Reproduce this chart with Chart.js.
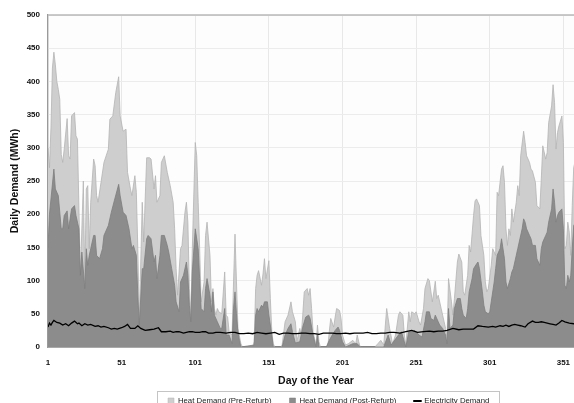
<!DOCTYPE html>
<html>
<head>
<meta charset="utf-8">
<script src="https://cdn.jsdelivr.net/npm/chart.js@4"></script>
<style>
html,body{margin:0;padding:0;overflow:hidden;background:#fff;width:574px;height:403px}
#wrap{position:absolute;left:0;top:0;width:600px;height:440px}
canvas{display:block}
</style>
</head>
<body>
<div id="wrap"><canvas id="c" width="600" height="440"></canvas></div>
<script>
// ---- data ----
const xTickValues = [1, 51, 101, 151, 201, 251, 301, 351];

const preDays = [1,2,3,4,5,6,7,8,9,10,11,12,14,15,16,17,19,20,21,23,25,26,27,28,29,30,32,33,34,35,37,39,42,43,45,47,49,50,52,54,55,57,58,60,61,62,63,65,66,67,68,70,71,73,74,75,77,78,80,82,84,86,87,88,89,90,91,92,94,95,96,97,98,99,101,102,103,104,105,107,108,109,111,112,113,114,115,116,117,119,121,122,123,124,126,127,128,129,130,132,133,140,141,142,143,144,146,147,148,149,151,152,153,154,155,159,160,162,164,166,167,169,170,172,173,174,175,177,178,179,180,181,183,184,185,186,191,192,193,195,196,197,199,200,201,203,205,208,210,211,212,213,223,225,227,229,231,233,235,237,239,240,242,243,244,246,247,248,250,251,253,254,256,257,259,260,262,263,264,265,266,268,269,271,272,273,275,276,277,279,280,282,283,284,286,287,288,290,291,292,294,295,297,298,299,300,302,303,305,306,307,309,310,311,312,313,314,315,316,317,319,320,321,322,324,325,326,328,329,330,332,333,335,336,337,339,340,341,343,344,345,346,347,348,350,351,352,353,354,355,356,357,358,360];
const preValues = [300,270,330,420,444,425,400,388,373,290,278,298,344,288,283,348,353,318,313,108,250,98,238,243,148,218,283,273,228,218,248,278,298,343,348,383,407,348,325,328,263,238,228,258,233,148,38,218,158,223,285,285,283,238,258,218,228,278,288,263,243,218,178,118,78,113,148,153,203,218,188,88,48,148,308,288,218,148,68,98,168,188,138,68,88,58,48,58,53,50,113,48,45,23,18,98,170,98,28,5,0,0,8,88,108,115,93,110,133,103,130,73,23,5,0,0,3,38,48,68,53,38,8,28,18,48,83,88,78,88,58,23,3,33,8,0,0,23,43,30,45,58,55,43,18,3,5,10,5,18,8,0,0,5,10,3,58,28,5,18,48,53,48,18,3,53,38,53,50,53,38,33,58,88,103,100,68,83,99,73,78,58,48,28,13,103,68,48,73,128,140,128,83,78,108,153,143,198,220,223,213,168,138,98,83,88,123,148,138,233,228,268,273,248,178,153,178,168,208,188,218,243,228,288,325,308,288,278,268,265,248,213,208,253,303,283,293,338,363,395,368,298,323,333,348,308,148,153,188,173,138,213,270,290];

const postDays = [1,2,5,6,8,10,11,12,14,15,16,17,19,20,22,23,24,26,27,28,29,30,32,33,34,36,38,39,42,44,46,49,50,52,54,56,58,59,61,62,63,65,66,68,69,71,73,74,75,77,78,80,82,83,85,87,88,90,91,93,95,96,97,98,99,101,103,104,105,107,108,109,111,112,113,114,116,118,119,121,122,124,126,127,128,129,130,131,132,141,142,143,144,146,147,148,150,151,153,154,160,162,164,166,167,169,172,174,176,178,179,181,183,184,185,190,192,194,196,198,199,201,203,208,211,213,229,232,234,239,241,243,244,246,248,250,253,255,257,258,260,261,263,264,266,267,269,271,272,273,274,276,277,279,281,282,283,285,286,287,289,290,292,293,294,296,297,298,300,301,302,304,305,306,308,309,311,312,313,315,316,317,319,320,321,323,324,325,326,328,329,330,332,333,335,336,337,339,340,341,343,344,345,346,347,348,350,351,352,353,354,355,356,357,358,360];
const postValues = [150,200,268,238,228,178,178,198,205,178,193,208,213,198,178,108,143,88,148,123,138,148,168,168,138,133,148,168,183,203,220,245,228,203,198,178,148,153,138,78,33,118,118,163,168,163,128,138,103,138,168,168,153,143,118,93,68,53,98,108,128,108,63,38,113,178,148,103,58,53,88,103,78,53,83,48,38,28,28,58,18,18,5,58,83,50,22,10,0,3,48,58,53,63,60,68,68,48,18,0,0,18,28,35,23,6,8,30,45,48,43,18,0,18,0,0,10,18,25,30,25,8,0,5,5,0,0,18,3,18,23,8,0,23,23,25,18,15,38,53,53,43,40,48,38,33,28,18,5,58,28,33,58,73,73,58,48,43,58,83,103,118,125,128,118,83,63,53,50,53,68,98,118,138,148,163,133,98,88,103,113,118,138,148,158,178,193,188,178,168,163,153,153,133,123,148,158,168,173,188,208,238,218,188,198,203,208,178,93,88,108,98,108,148,183,190];

const elecDays = [1,2,3,4,5,7,9,11,13,15,17,19,21,22,24,26,28,30,33,35,37,39,42,44,46,48,51,53,55,57,60,62,64,67,70,73,76,78,81,84,86,88,90,93,95,97,99,101,104,106,108,110,113,115,118,122,125,128,131,134,137,140,143,146,149,152,155,158,161,164,167,170,173,176,179,182,185,188,191,194,197,200,203,206,209,212,215,218,221,224,227,230,233,236,240,244,248,252,256,260,263,266,269,272,276,280,283,286,290,293,296,300,303,305,308,310,312,314,316,318,320,322,325,327,330,332,334,336,338,340,342,344,346,348,350,352,355,358,360];
const elecValues = [30,36,33,37,40,37,36,33,35,32,36,39,35,36,32,35,33,34,31,32,30,31,29,27,28,27,29,31,34,28,28,32,28,25,26,27,29,23,23,24,22,23,23,21,22,23,23,22,22,23,23,21,21,22,22,21,22,22,20,20,21,20,22,21,20,21,22,19,21,21,20,20,21,21,20,20,19,21,21,21,20,20,21,20,21,21,21,22,20,20,21,21,22,22,21,23,25,22,23,24,23,24,24,25,28,26,27,27,27,32,31,30,31,30,32,31,33,31,33,34,33,32,30,35,39,37,37,38,37,36,35,34,33,36,40,38,36,35,36];

const seriesLabels = ['Heat Demand (Pre-Refurb)', 'Heat Demand (Post-Refurb)', 'Electricity Demand'];

const toPoints = (xs, ys) => xs.map((x, i) => ({x: x, y: ys[i]}));

Chart.defaults.font.family = "'Liberation Sans', Arial, sans-serif";
Chart.defaults.color = '#1a1a1a';

const PAD_BOTTOM = 17;
const PLOT_BOTTOM = 347;
const LEGEND_FONT = 7.8;
const LEGEND_PAD = 18;

const legendPlace = {
  id: 'legendPlace',
  afterLayout(chart) {
    const lg = chart.legend;
    if (!lg) return;
    const w = lg.width, h = lg.height;
    lg.left = 150; lg.right = 150 + w;
    lg.top = 401 - LEGEND_PAD - LEGEND_FONT / 2;
    lg.bottom = lg.top + h;
  },
  afterDraw(chart) {
    const lg = chart.legend;
    if (!lg || !lg.legendHitBoxes || !lg.legendHitBoxes.length) return;
    const hb = lg.legendHitBoxes;
    const x0 = hb[0].left - 11;
    const last = hb[hb.length - 1];
    const x1 = last.left + last.width + 10;
    const ctx = chart.ctx;
    ctx.save();
    ctx.strokeStyle = '#c4c4c4';
    ctx.lineWidth = 1;
    ctx.strokeRect(Math.round(x0) + 0.5, 391.5, Math.round(x1 - x0), 40);
    ctx.restore();
  }
};

const plotFrame = {
  id: 'plotFrame',
  beforeDraw(chart) {
    const a = chart.chartArea, ctx = chart.ctx;
    ctx.save();
    ctx.fillStyle = '#fdfdfd';
    ctx.fillRect(a.left, a.top, a.right - a.left, a.bottom - a.top);
    ctx.restore();
  },
  afterDraw(chart) {
    const a = chart.chartArea, ctx = chart.ctx;
    ctx.save();
    ctx.strokeStyle = '#b8b8b8';
    ctx.lineWidth = 1.5;
    ctx.beginPath();
    ctx.moveTo(a.left, a.top); ctx.lineTo(a.right, a.top);
    ctx.stroke();
    ctx.restore();
  }
};

new Chart(document.getElementById('c'), {
  type: 'line',
  data: {
    datasets: [
      {
        label: seriesLabels[0],
        data: toPoints(preDays, preValues),
        backgroundColor: '#cecece',
        borderColor: '#b4b4b4',
        borderWidth: 0.8,
        fill: 'origin',
        pointRadius: 0,
        pointStyle: 'rect',
        tension: 0,
        order: 2
      },
      {
        label: seriesLabels[1],
        data: toPoints(postDays, postValues),
        backgroundColor: '#8c8c8c',
        borderColor: '#7e7e7e',
        borderWidth: 0.8,
        fill: 'origin',
        pointRadius: 0,
        pointStyle: 'rect',
        tension: 0,
        order: 1
      },
      {
        label: seriesLabels[2],
        data: toPoints(elecDays, elecValues),
        backgroundColor: '#000',
        borderColor: '#000',
        borderWidth: 1.3,
        fill: false,
        pointRadius: 0,
        pointStyle: 'line',
        tension: 0,
        order: 0
      }
    ]
  },
  options: {
    responsive: false,
    animation: false,
    devicePixelRatio: 1,
    layout: { padding: { left: 0, right: 16, top: 15, bottom: PAD_BOTTOM } },
    scales: {
      x: {
        type: 'linear',
        min: 1,
        max: 365,
        afterBuildTicks: (s) => { s.ticks = xTickValues.map(v => ({ value: v })); },
        afterFit: (s) => {
          const lh = s.chart.legend ? s.chart.legend.height : 0;
          s.height = s.chart.height - PAD_BOTTOM - lh - PLOT_BOTTOM;
        },
        grid: { color: '#e8e8e8', drawTicks: false, lineWidth: 1 },
        border: { color: '#666', width: 1.5 },
        ticks: {
          font: { size: 8, weight: 'bold' },
          color: '#111',
          padding: 11,
          maxRotation: 0,
          autoSkip: false
        },
        title: {
          display: true,
          text: 'Day of the Year',
          font: { size: 10.5, weight: 'bold' },
          color: '#111',
          padding: { top: 0, bottom: 0 }
        }
      },
      y: {
        min: 0,
        max: 500,
        afterFit: (s) => { s.width = 48; },
        grid: { color: '#ececec', drawTicks: false, lineWidth: 1 },
        border: { color: '#9a9a9a', width: 1.2 },
        ticks: {
          stepSize: 50,
          font: { size: 8, weight: 'bold' },
          color: '#111',
          padding: 8
        },
        title: {
          display: true,
          text: 'Daily Demand (MWh)',
          font: { size: 10.5, weight: 'bold' },
          color: '#111',
          padding: { top: 8.4, bottom: 0 }
        }
      }
    },
    plugins: {
      tooltip: { enabled: false },
      legend: {
        position: 'bottom',
        align: 'start',
        labels: {
          usePointStyle: true,
          boxHeight: 6,
          boxWidth: 6,
          padding: LEGEND_PAD,
          font: { size: LEGEND_FONT },
          color: '#222',
          sort: (a, b) => a.datasetIndex - b.datasetIndex,
          generateLabels: (chart) => {
            const items = Chart.defaults.plugins.legend.labels.generateLabels(chart);
            items.forEach(it => {
              if (it.datasetIndex === 2) { it.lineWidth = 2; it.strokeStyle = '#000'; }
              else { it.lineWidth = 0.5; it.strokeStyle = it.datasetIndex === 0 ? '#b0b0b0' : '#7a7a7a'; }
            });
            return items;
          }
        }
      }
    }
  },
  plugins: [plotFrame, legendPlace]
});
</script>
</body>
</html>
